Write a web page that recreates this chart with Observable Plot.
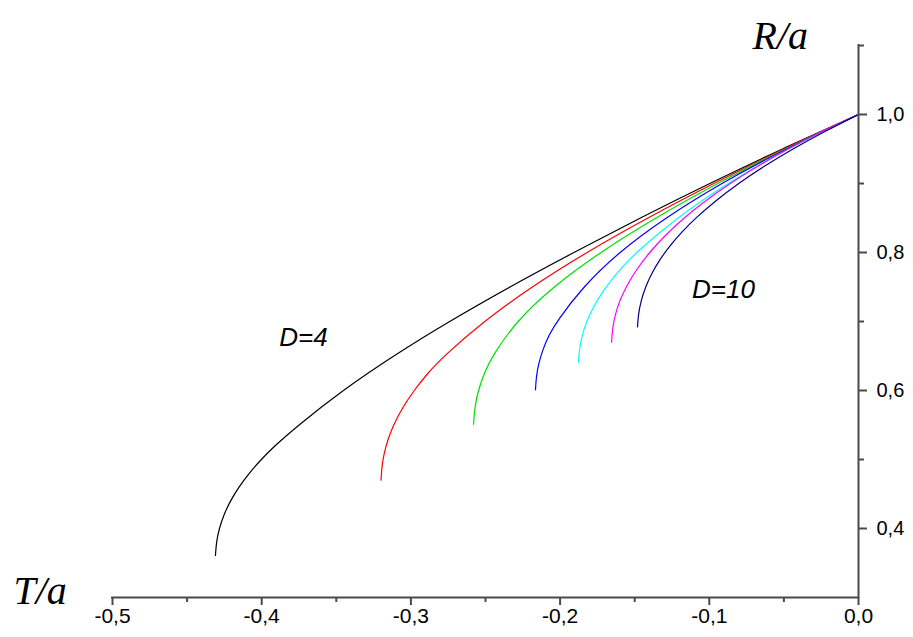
<!DOCTYPE html>
<html>
<head>
<meta charset="utf-8">
<script src="https://cdn.jsdelivr.net/npm/d3@7"></script>
<script src="https://cdn.jsdelivr.net/npm/@observablehq/plot@0.6"></script>
<style>
  html, body { margin: 0; padding: 0; background: #fff; }
  #chart svg { display: block; }
</style>
</head>
<body>
<div id="chart"></div>
<script>
// Curves: [T/a, R/a] pairs
const curveD4 = [[-0.431,0.361],[-0.4304,0.38],[-0.4285,0.40],[-0.4254,0.42],[-0.421,0.44],[-0.4154,0.46],[-0.4085,0.48],[-0.4004,0.50],[-0.3912,0.52],[-0.3753,0.55],[-0.346,0.60],[-0.312,0.65],[-0.2745,0.70],[-0.234,0.75],[-0.191,0.80],[-0.1465,0.85],[-0.100,0.90],[-0.0515,0.95],[0,1]];
const curveD5 = [[-0.320,0.47],[-0.3195,0.49],[-0.3179,0.51],[-0.3153,0.53],[-0.3117,0.55],[-0.3057,0.575],[-0.298,0.60],[-0.2888,0.625],[-0.2779,0.65],[-0.2514,0.70],[-0.2194,0.75],[-0.1826,0.80],[-0.1417,0.85],[-0.0975,0.90],[-0.0506,0.95],[0,1]];
const curveD6 = [[-0.258,0.551],[-0.2573,0.575],[-0.2549,0.60],[-0.2509,0.625],[-0.2455,0.65],[-0.2295,0.70],[-0.205,0.75],[-0.1735,0.80],[-0.1365,0.85],[-0.095,0.90],[-0.0498,0.95],[0,1]];
const curveD7 = [[-0.2165,0.601],[-0.216,0.62],[-0.2143,0.64],[-0.2115,0.66],[-0.2075,0.68],[-0.2023,0.70],[-0.1848,0.75],[-0.161,0.80],[-0.1297,0.85],[-0.0925,0.90],[-0.0492,0.95],[0,1]];
const curveD8 = [[-0.1877,0.641],[-0.1871,0.66],[-0.1853,0.68],[-0.1823,0.70],[-0.178,0.72],[-0.1725,0.74],[-0.1658,0.76],[-0.158,0.78],[-0.149,0.80],[-0.122,0.85],[-0.0885,0.90],[-0.048,0.95],[0,1]];
const curveD9 = [[-0.1655,0.670],[-0.1649,0.69],[-0.1631,0.71],[-0.1601,0.73],[-0.1559,0.75],[-0.149,0.775],[-0.1402,0.80],[-0.1296,0.825],[-0.1171,0.85],[-0.1027,0.875],[-0.0863,0.90],[-0.0679,0.925],[-0.0475,0.95],[-0.0251,0.975],[0,1]];
const curveD10 = [[-0.1481,0.692],[-0.1476,0.71],[-0.1458,0.73],[-0.1428,0.75],[-0.1386,0.77],[-0.1331,0.79],[-0.1264,0.81],[-0.1184,0.83],[-0.1091,0.85],[-0.0958,0.875],[-0.0806,0.90],[-0.0634,0.925],[-0.0442,0.95],[-0.0231,0.975],[0,1]];

const seriesNames = ["D=4","D=5","D=6","D=7","D=8","D=9","D=10"];
const seriesCurves = [curveD4, curveD5, curveD6, curveD7, curveD8, curveD9, curveD10];
const seriesColors = ["#000000","#ff0000","#00e000","#0000ff","#00ffff","#ff00ff","#000080"];

const xTicks = [-0.5,-0.4,-0.3,-0.2,-0.1,0.0];
const xMinorTicks = [-0.45,-0.35,-0.25,-0.15,-0.05];
const yTicks = [0.4,0.6,0.8,1.0];
const yMinorTicks = [0.5,0.7,0.9,1.1];
const xDomain = [-0.5, 0.0];
const yDomain = [0.3, 1.1];

const labelNames = ["D=4","D=10"];

const rows = [];
seriesCurves.forEach((c, i) => c.forEach(([T, R]) => rows.push({T, R, D: seriesNames[i]})));

const fmt = d => d.toFixed(1).replace(".", ",");
const axisColor = "#4a4a4a";

const chart = Plot.plot({
  width: 913,
  height: 637,
  marginLeft: 112,
  marginRight: 55,
  marginTop: 45,
  marginBottom: 40,
  style: {fontFamily: "'Liberation Sans', Arial, sans-serif", fontSize: "20px", color: "#000", background: "#fff"},
  x: {domain: xDomain, axis: null},
  y: {domain: yDomain, axis: null},
  color: {domain: seriesNames, range: seriesColors},
  marks: [
    Plot.line(rows, {x: "T", y: "R", z: "D", stroke: "D", strokeWidth: 1.2, curve: "basis"}),
    // axis lines
    Plot.ruleY([yDomain[0]], {x1: xDomain[0], x2: xDomain[1], stroke: axisColor, strokeWidth: 2, strokeLinecap: "square"}),
    Plot.ruleX([xDomain[1]], {y1: yDomain[0], y2: yDomain[1], stroke: axisColor, strokeWidth: 2, strokeLinecap: "square"}),
    // x axis ticks
    Plot.axisX({ticks: xTicks, tickSize: 8, tickPadding: 3, tickFormat: fmt, stroke: axisColor, strokeWidth: 2, fill: "#000", fontSize: 21, anchor: "bottom", label: null}),
    Plot.axisX({ticks: xMinorTicks, tickSize: 5, text: null, stroke: axisColor, strokeWidth: 2, anchor: "bottom", label: null}),
    // y axis ticks (right)
    Plot.axisY({ticks: yTicks, tickSize: 8, tickPadding: 10, tickFormat: fmt, stroke: axisColor, strokeWidth: 2, fill: "#000", fontSize: 20, anchor: "right", label: null}),
    Plot.axisY({ticks: yMinorTicks, tickSize: 5, text: null, stroke: axisColor, strokeWidth: 2, anchor: "right", label: null}),
    // axis titles
    Plot.text(["R/a"], {frameAnchor: "top-right", text: d => d, dx: -106, dy: 3, textAnchor: "start", lineAnchor: "bottom", fontFamily: "'Liberation Serif', 'Times New Roman', serif", fontStyle: "italic", fontSize: 40, fill: "#000"}),
    Plot.text(["T/a"], {frameAnchor: "bottom-left", text: d => d, dx: -99, dy: 6, textAnchor: "start", lineAnchor: "bottom", fontFamily: "'Liberation Serif', 'Times New Roman', serif", fontStyle: "italic", fontSize: 40, fill: "#000"}),
    // curve labels
    Plot.text([labelNames[0]], {frameAnchor: "top-left", text: d => d, dx: 191, dy: 292, textAnchor: "middle", lineAnchor: "middle", fontStyle: "italic", fontSize: 26, fill: "#000"}),
    Plot.text([labelNames[1]], {frameAnchor: "top-left", text: d => d, dx: 611, dy: 244, textAnchor: "middle", lineAnchor: "middle", fontStyle: "italic", fontSize: 26, fill: "#000"})
  ]
});

document.getElementById("chart").appendChild(chart);
</script>
</body>
</html>
